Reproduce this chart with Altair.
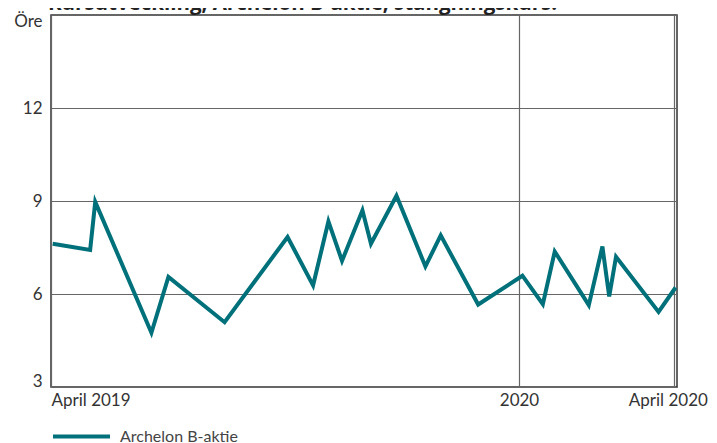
import altair as alt
import pandas as pd

dates = ["2019-04-02", "2019-04-24", "2019-04-27", "2019-05-30", "2019-06-09",
         "2019-07-12", "2019-08-18", "2019-09-02", "2019-09-11", "2019-09-19",
         "2019-10-01", "2019-10-06", "2019-10-21", "2019-11-07", "2019-11-16",
         "2019-12-08", "2020-01-03", "2020-01-15", "2020-01-22", "2020-02-11",
         "2020-02-19", "2020-02-23", "2020-02-27", "2020-03-23", "2020-04-02"]
values = [7.62, 7.42, 8.97, 4.75, 6.55,
          5.09, 7.84, 6.28, 8.34, 7.07,
          8.70, 7.62, 9.17, 6.89, 7.89,
          5.66, 6.59, 5.67, 7.37, 5.64,
          7.53, 5.92, 7.20, 5.42, 6.21]
series_name = "Archelon B-aktie"
title_text = "Kursutveckling, Archelon B-aktie, stängningskurs."
y_ticks = [3, 6, 9, 12, 15]

df = pd.DataFrame({"date": dates, "value": values, "series": series_name})

FONT = "Lato"
TEAL = "#00717A"

x_dom = [alt.DateTime(year=2019, month=4, date=1, utc=True),
         alt.DateTime(year=2020, month=4, date=2, hours=20, utc=True)]
x_vals = [alt.DateTime(year=2019, month=4, date=1, utc=True),
          alt.DateTime(year=2020, month=1, date=1, utc=True),
          alt.DateTime(year=2020, month=4, date=1, utc=True)]

line = alt.Chart(df).mark_line(strokeWidth=4).encode(
    x=alt.X("date:T",
            scale=alt.Scale(type="utc", domain=x_dom),
            axis=alt.Axis(values=x_vals, title=None, grid=True, ticks=False,
                          domain=False, labelFlush=1, labelPadding=5,
                          labelOffset={"condition": {"test": "utcyear(datum.value) == 2020 && utcmonth(datum.value) == 3", "value": -6}, "value": 0},
                          labelExpr="utcmonth(datum.value) == 0 ? utcFormat(datum.value, '%Y') : 'April ' + utcFormat(datum.value, '%Y')")),
    y=alt.Y("value:Q",
            scale=alt.Scale(domain=[3, 15], nice=False, zero=False),
            axis=alt.Axis(values=y_ticks, title=None, grid=True, ticks=False,
                          domain=False, labelFlush=True, labelFlushOffset=3,
                          labelPadding=9,
                          labelOffset={"condition": {"test": "datum.value == 15", "value": 1}, "value": 0},
                          labelExpr="datum.value == 15 ? 'Öre' : datum.label")),
    color=alt.Color("series:N",
                    scale=alt.Scale(range=[TEAL]),
                    legend=alt.Legend(title=None, orient="none", legendX=0, legendY=391,
                                      symbolType="stroke", symbolSize=3249,
                                      symbolStrokeWidth=4, labelFontSize=16,
                                      labelFont=FONT, labelColor="#444",
                                      labelOffset=8, padding=0)),
)

title = alt.Chart(pd.DataFrame({"t": [title_text]})).mark_text(
    align="left", baseline="alphabetic", font="Open Sans", fontSize=20.5,
    fontWeight="bold", color="#222"
).encode(x=alt.value(-3), y=alt.value(-5), text="t:N")

chart = alt.layer(line, title).properties(
    width=626, height=372,
    autosize=alt.AutoSizeParams(type="none"),
    padding={"left": 43, "top": 7, "right": 32, "bottom": 56},
).configure_view(
    stroke="#333", strokeWidth=1.5
).configure_axis(
    gridColor="#666", gridWidth=1.2, gridOpacity=1,
    labelFont=FONT, labelFontSize=17, labelColor="#333"
)

chart.save("out.html", embed_options={"renderer": "svg", "actions": False})
